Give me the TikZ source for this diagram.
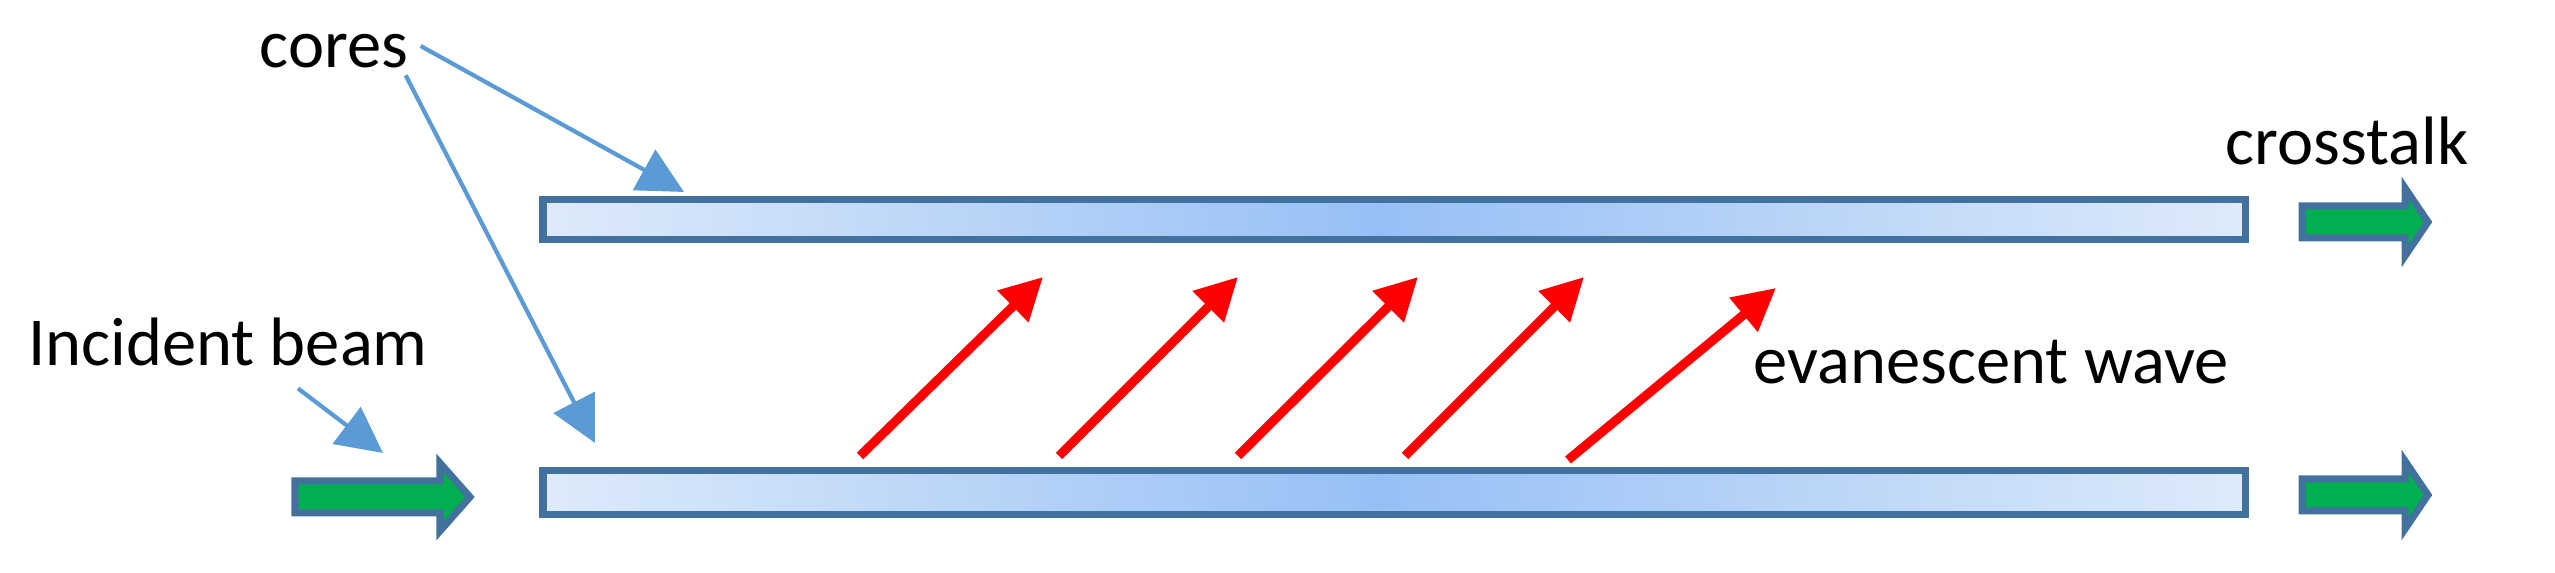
\documentclass[tikz,border=0pt]{standalone}
\usepackage{fontspec}
\setmainfont{Carlito}
\usetikzlibrary{arrows.meta}
\definecolor{pb}{RGB}{91,155,213}
\definecolor{edge}{RGB}{65,113,156}
\definecolor{gr}{RGB}{0,176,80}
\definecolor{lite}{RGB}{222,234,250}
\definecolor{mid}{RGB}{150,192,245}
\tikzset{
  lbl/.style={font=\fontsize{19.5}{22}\selectfont},
  pointer/.style={pb, line width=1.2pt, -{Triangle[length=13pt,width=13pt]}},
  wave/.style={red, line width=2.6pt, -{Triangle[length=12pt,width=12pt]}},
  beam/.style={draw=edge, fill=gr, line width=2pt, line join=miter},
}
\newcommand{\beamarrow}[4]{% x0 x1 xhead y
  \draw[beam] (#1,#4-0.16) -- (#3,#4-0.16) -- (#3,#4-0.34) -- (#2,#4) -- (#3,#4+0.34) -- (#3,#4+0.16) -- (#1,#4+0.16) -- cycle;
}
\begin{document}
\begin{tikzpicture}[x=1cm,y=1cm]
\useasboundingbox (0,0) rectangle (25.55,5.73);
\fill[left color=lite, right color=mid] (5.43,3.73) rectangle (13.8,3.33);
\fill[left color=mid, right color=lite] (13.8,3.73) rectangle (22.45,3.33);
\draw[edge, line width=2pt] (5.43,3.73) rectangle (22.45,3.33) node[coordinate] (topcore) {};
\fill[left color=lite, right color=mid] (5.43,1.02) rectangle (13.8,0.58);
\fill[left color=mid, right color=lite] (13.8,1.02) rectangle (22.45,0.58);
\draw[edge, line width=2pt] (5.43,1.02) rectangle (22.45,0.58) node[coordinate] (botcore) {};

\beamarrow{2.95}{4.70}{4.40}{0.76}
\beamarrow{23.02}{24.28}{24.05}{3.51}
\beamarrow{23.02}{24.28}{24.05}{0.78}

\node[lbl] (cores) at (3.34,5.22) {cores};
\node[lbl] (inc) at (2.28,2.31) {Incident beam};
\node[lbl] (cross) at (23.47,4.32) {crosstalk};
\node[lbl] (eva) at (19.91,2.11) {evanescent wave};

\coordinate (c1) at (6.84,3.81);
\coordinate (c2) at (5.95,1.30);
\coordinate (c3) at (3.83,1.20);
\draw[pointer] (cores.east) ++(0,0.05) -- (c1);
\draw[pointer] (cores.south east) ++(-0.15,0.05) -- (c2);
\draw[pointer] (inc.south) ++(0.7,-0.1) -- (c3);

\foreach \i/\a/\b/\c/\d in {1/8.60/1.17/10.43/2.96, 2/10.59/1.17/12.38/2.96, 3/12.38/1.17/14.18/2.96, 4/14.05/1.17/15.84/2.96, 5/15.68/1.13/17.76/2.85}{
  \coordinate (w\i s) at (\a,\b);
  \coordinate (w\i e) at (\c,\d);
  \draw[wave] (w\i s) -- (w\i e);
}
\end{tikzpicture}
\end{document}
